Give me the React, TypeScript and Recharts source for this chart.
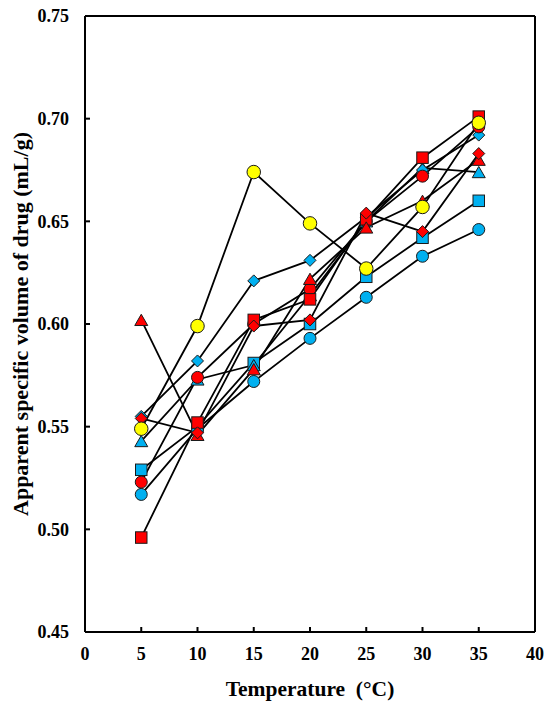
import React from 'react';
import { LineChart, Line, XAxis, YAxis, ReferenceLine } from 'recharts';

const temps = [5, 10, 15, 20, 25, 30, 35];
const blueCircle = [0.517, 0.549, 0.572, 0.593, 0.613, 0.633, 0.646];
const blueSquare = [0.529, 0.55, 0.581, 0.6, 0.623, 0.642, 0.66];
const blueTriangle = [0.543, 0.573, 0.58, 0.614, 0.65, 0.676, 0.674];
const blueDiamond = [0.555, 0.582, 0.621, 0.631, 0.652, 0.675, 0.692];
const redCircle = [0.523, 0.574, 0.6, 0.617, 0.65, 0.672, 0.696];
const redSquare = [0.496, 0.552, 0.602, 0.612, 0.651, 0.681, 0.701];
const redTriangle = [0.602, 0.546, 0.578, 0.622, 0.647, 0.66, 0.68];
const redDiamond = [0.554, 0.547, 0.599, 0.602, 0.654, 0.645, 0.683];
const yellowCircle = [0.549, 0.599, 0.674, 0.649, 0.627, 0.657, 0.698];

const xTicks = [0, 5, 10, 15, 20, 25, 30, 35, 40];
const yTicks = [0.45, 0.5, 0.55, 0.6, 0.65, 0.7, 0.75];

const BLUE = '#00B0F0';
const RED = '#FF0000';
const YELLOW = '#FFFF00';

type Shape = 'circle' | 'square' | 'triangle' | 'diamond';

const seriesList: { key: string; values: number[]; shape: Shape; color: string; size: number }[] = [
  { key: 'blueCircle', values: blueCircle, shape: 'circle', color: BLUE, size: 12 },
  { key: 'blueSquare', values: blueSquare, shape: 'square', color: BLUE, size: 11.5 },
  { key: 'blueTriangle', values: blueTriangle, shape: 'triangle', color: BLUE, size: 13 },
  { key: 'blueDiamond', values: blueDiamond, shape: 'diamond', color: BLUE, size: 12 },
  { key: 'redCircle', values: redCircle, shape: 'circle', color: RED, size: 12 },
  { key: 'redSquare', values: redSquare, shape: 'square', color: RED, size: 11.5 },
  { key: 'redTriangle', values: redTriangle, shape: 'triangle', color: RED, size: 13 },
  { key: 'redDiamond', values: redDiamond, shape: 'diamond', color: RED, size: 12 },
  { key: 'yellowCircle', values: yellowCircle, shape: 'circle', color: YELLOW, size: 13.5 },
];

const data = temps.map((t, i) => {
  const row: Record<string, number> = { t };
  seriesList.forEach((s) => {
    row[s.key] = s.values[i];
  });
  return row;
});

const FONT = '"Liberation Serif", "Times New Roman", serif';

function makeDot(shape: Shape, color: string, size: number) {
  return (props: any) => {
    const { cx, cy, index } = props;
    if (cx == null || cy == null) return <g key={index} />;
    const common = { fill: color, stroke: '#1a1a1a', strokeWidth: 1 };
    if (shape === 'circle') {
      return <circle key={index} cx={cx} cy={cy} r={size / 2} {...common} />;
    }
    if (shape === 'square') {
      return <rect key={index} x={cx - size / 2} y={cy - size / 2} width={size} height={size} {...common} />;
    }
    if (shape === 'triangle') {
      const h = (size * Math.sqrt(3)) / 2;
      const pts = `${cx},${cy - h / 2} ${cx - size / 2},${cy + h / 2} ${cx + size / 2},${cy + h / 2}`;
      return <polygon key={index} points={pts} {...common} />;
    }
    const r = size / 2;
    const pts = `${cx},${cy - r} ${cx + r},${cy} ${cx},${cy + r} ${cx - r},${cy}`;
    return <polygon key={index} points={pts} {...common} />;
  };
}

const tickStyle = { fill: '#000', fontSize: 18, fontWeight: 'bold', fontFamily: FONT };

export default function App() {
  return (
    <div style={{ position: 'absolute', left: 0, top: 0 }}>
      <LineChart width={550} height={704} data={data} margin={{ top: 16, right: 15, left: 0, bottom: 0 }}>
        <XAxis
          dataKey="t"
          type="number"
          domain={[0, 40]}
          ticks={xTicks}
          interval={0}
          height={72}
          stroke="#000"
          axisLine={{ stroke: '#000', strokeWidth: 2 }}
          tickLine={{ stroke: '#000', strokeWidth: 2 }}
          tickSize={-5}
          tickMargin={20}
          tick={tickStyle}
          label={{
            content: (p: any) => {
              const vb = p.viewBox || {};
              return (
                <text
                  x={vb.x + vb.width / 2}
                  y={vb.y + 64}
                  textAnchor="middle"
                  fontFamily={FONT}
                  fontWeight="bold"
                  fontSize={21.5}
                  fill="#000"
                  style={{ whiteSpace: 'pre' }}
                >
                  {'Temperature  (°C)'}
                </text>
              );
            },
          }}
        />
        <YAxis
          type="number"
          domain={[0.45, 0.75]}
          ticks={yTicks}
          interval={0}
          width={85}
          stroke="#000"
          axisLine={{ stroke: '#000', strokeWidth: 2 }}
          tickLine={{ stroke: '#000', strokeWidth: 2 }}
          tickSize={-5}
          tickMargin={21}
          tick={tickStyle}
          tickFormatter={(v: number) => v.toFixed(2)}
          label={{
            content: (p: any) => {
              const vb = p.viewBox || {};
              const x = vb.x + 28;
              const y = vb.y + vb.height / 2;
              return (
                <text
                  x={x}
                  y={y}
                  transform={`rotate(-90, ${x}, ${y})`}
                  textAnchor="middle"
                  fontFamily={FONT}
                  fontWeight="bold"
                  fontSize={22}
                  fill="#000"
                >
                  Apparent specific volume of drug (mL/g)
                </text>
              );
            },
          }}
        />
        <ReferenceLine y={0.75} stroke="#000" strokeWidth={2} />
        <ReferenceLine x={40} stroke="#000" strokeWidth={2} />
        {seriesList.map((s) => (
          <Line
            key={s.key}
            dataKey={s.key}
            type="linear"
            stroke="#000"
            strokeWidth={1.8}
            isAnimationActive={false}
            dot={makeDot(s.shape, s.color, s.size)}
            activeDot={false}
          />
        ))}
      </LineChart>
    </div>
  );
}
